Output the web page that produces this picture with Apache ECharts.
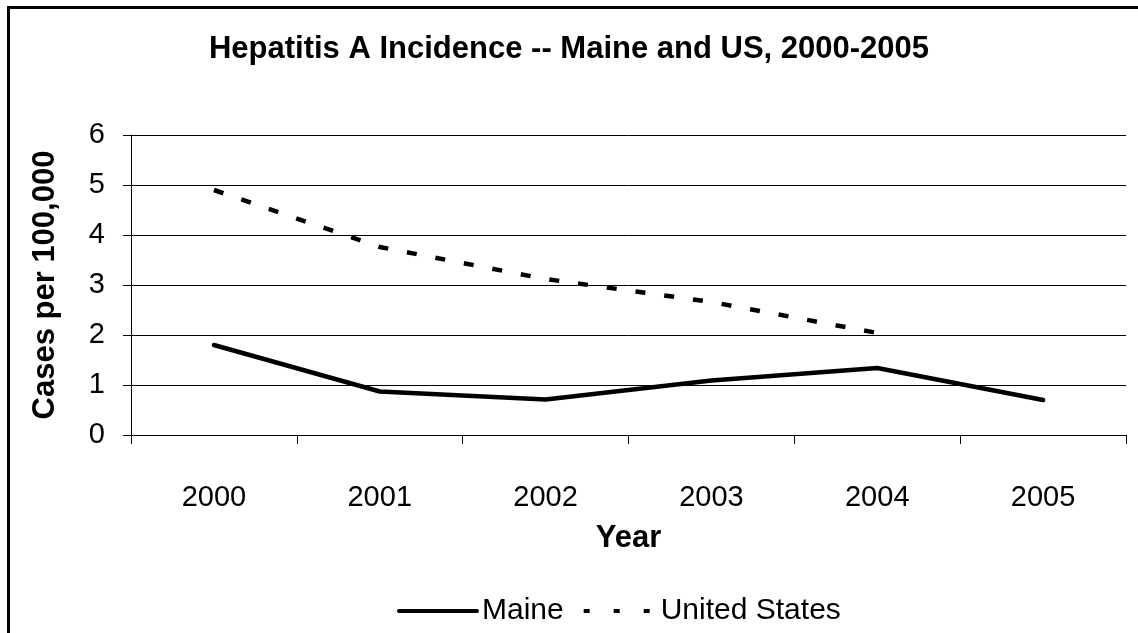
<!DOCTYPE html>
<html>
<head>
<meta charset="utf-8">
<script src="https://cdn.jsdelivr.net/npm/echarts@6/dist/echarts.min.js"></script>
<style>
html,body{margin:0;padding:0;background:#fff;}
#chart{width:1138px;height:633px;}
</style>
</head>
<body>
<div id="chart"></div>
<script>
var years = ['2000', '2001', '2002', '2003', '2004', '2005'];
var maine = [1.8, 0.87, 0.71, 1.09, 1.34, 0.7];
var unitedStates = [4.9, 3.76, 3.12, 2.66, 2.04, null];
var yTicks = [0, 1, 2, 3, 4, 5, 6];

var FONT = 'Liberation Sans, Arial, sans-serif';
var chart = echarts.init(document.getElementById('chart'), null, {renderer: 'canvas'});
chart.setOption({
  backgroundColor: '#fff',
  animation: false,
  title: {
    text: 'Hepatitis A Incidence -- Maine and US, 2000-2005',
    left: 'center',
    top: 29,
    textStyle: {fontFamily: FONT, fontSize: 31, fontWeight: 'bold', color: '#000'}
  },
  graphic: [{
    type: 'rect',
    shape: {x: 8.5, y: 7.5, width: 1300, height: 800},
    style: {fill: 'none', stroke: '#000', lineWidth: 3},
    silent: true
  }],
  legend: {
    left: 392,
    top: 591,
    itemWidth: 78,
    itemHeight: 12,
    itemGap: 12,
    itemStyle: {color: 'rgba(0,0,0,0)', borderWidth: 0, opacity: 0},
    lineStyle: {width: 4, color: '#000'},
    textStyle: {fontFamily: FONT, fontSize: 30, color: '#000'},
    data: [
      {name: 'Maine', lineStyle: {type: 'solid', width: 4}},
      {name: 'United States', lineStyle: {type: [6, 24], dashOffset: -6, width: 4}}
    ]
  },
  grid: {left: 131, right: 12, top: 135, bottom: 198, containLabel: false},
  xAxis: {
    type: 'category',
    data: years,
    boundaryGap: true,
    name: 'Year',
    nameLocation: 'middle',
    nameGap: 88,
    nameTextStyle: {fontFamily: FONT, fontSize: 31, fontWeight: 'bold', color: '#000'},
    axisLine: {lineStyle: {color: '#000', width: 1}},
    axisTick: {show: true, alignWithLabel: false, length: 9, lineStyle: {color: '#000'}},
    axisLabel: {fontFamily: FONT, fontSize: 29, color: '#000', margin: 48}
  },
  yAxis: {
    type: 'value',
    min: yTicks[0],
    max: yTicks[yTicks.length - 1],
    interval: 1,
    name: 'Cases per 100,000',
    nameLocation: 'middle',
    nameGap: 70,
    nameRotate: 90,
    nameTextStyle: {fontFamily: FONT, fontSize: 31, fontWeight: 'bold', color: '#000'},
    axisLine: {show: true, lineStyle: {color: '#000', width: 1}},
    axisTick: {show: true, length: 8, inside: false, lineStyle: {color: '#000'}},
    axisLabel: {fontFamily: FONT, fontSize: 29, color: '#000', margin: 26},
    splitLine: {show: true, lineStyle: {color: '#000', width: 1}}
  },
  series: [{
    name: 'Maine',
    type: 'line',
    data: maine,
    showSymbol: false,
    symbol: 'none',
    lineStyle: {color: '#000', width: 4.5, cap: 'round', join: 'round'},
    itemStyle: {color: '#000'}
  }, {
    name: 'United States',
    type: 'line',
    data: unitedStates,
    showSymbol: false,
    symbol: 'none',
    connectNulls: false,
    lineStyle: {color: '#000', width: 4.5, type: [10, 19], cap: 'butt'},
    itemStyle: {color: '#000'}
  }]
});
</script>
</body>
</html>
